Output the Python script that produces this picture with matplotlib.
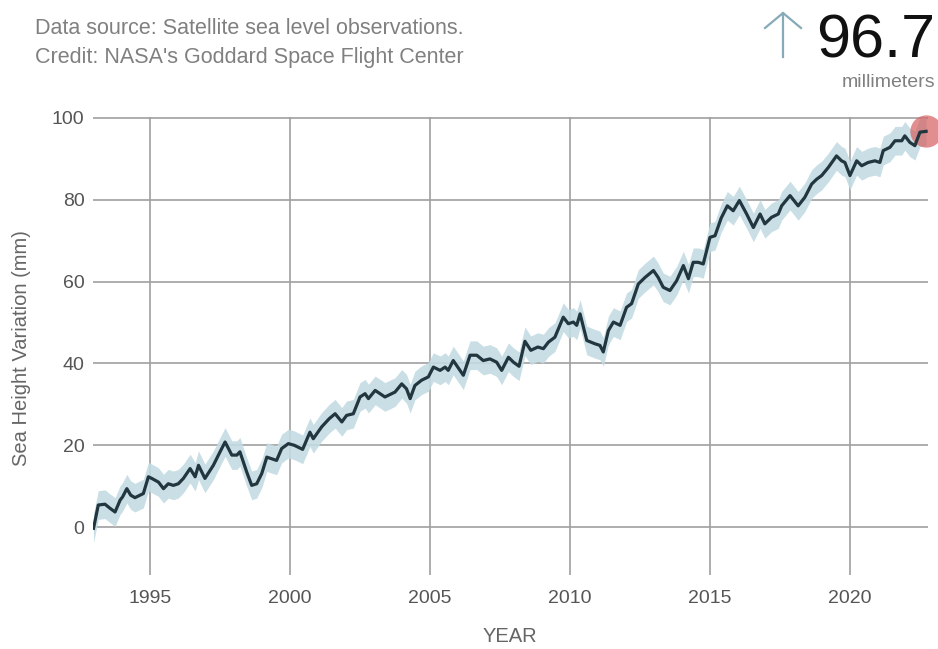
import matplotlib.pyplot as plt
from matplotlib.lines import Line2D

plt.rcParams['font.family'] = ['Liberation Sans', 'DejaVu Sans']

# satellite sea level change, mm relative to 1993
years = [1992.98, 1993.15, 1993.39, 1993.57, 1993.75, 1993.93, 1994.02, 1994.17, 1994.31, 1994.46,
         1994.76, 1994.94, 1995.06, 1995.30, 1995.48, 1995.65, 1995.83, 1996.01, 1996.19, 1996.43,
         1996.61, 1996.73, 1996.96, 1997.26, 1997.50, 1997.68, 1997.92, 1998.10, 1998.21, 1998.45,
         1998.63, 1998.81, 1998.99, 1999.17, 1999.52, 1999.70, 1999.94, 2000.15, 2000.45, 2000.71,
         2000.83, 2001.13, 2001.40, 2001.61, 2001.85, 2002.02, 2002.26, 2002.50, 2002.68, 2002.80,
         2003.04, 2003.39, 2003.75, 2003.99, 2004.16, 2004.29, 2004.46, 2004.70, 2004.94, 2005.12,
         2005.36, 2005.54, 2005.65, 2005.83, 2006.07, 2006.19, 2006.43, 2006.67, 2006.90, 2007.14,
         2007.38, 2007.56, 2007.80, 2007.98, 2008.18, 2008.39, 2008.60, 2008.85, 2009.05, 2009.23,
         2009.46, 2009.76, 2009.94, 2010.12, 2010.24, 2010.36, 2010.60, 2010.89, 2011.07, 2011.19,
         2011.37, 2011.55, 2011.79, 2012.02, 2012.20, 2012.44, 2012.68, 2012.98, 2013.15, 2013.33,
         2013.57, 2013.81, 2014.05, 2014.23, 2014.40, 2014.58, 2014.76, 2015.00, 2015.18, 2015.40,
         2015.62, 2015.83, 2016.05, 2016.31, 2016.55, 2016.79, 2016.96, 2017.20, 2017.44, 2017.56,
         2017.86, 2018.15, 2018.39, 2018.63, 2018.81, 2018.99, 2019.23, 2019.52, 2019.70, 2019.82,
         2020.00, 2020.24, 2020.42, 2020.65, 2020.89, 2021.07, 2021.19, 2021.43, 2021.61, 2021.85,
         2021.96, 2022.14, 2022.32, 2022.50, 2022.72]
sea_mm = [-0.3, 5.4, 5.6, 4.6, 3.7, 6.6, 7.4, 9.4, 7.8, 7.2,
          8.2, 12.3, 11.9, 11.0, 9.4, 10.6, 10.2, 10.6, 11.9, 14.3,
          12.3, 15.1, 11.9, 15.1, 18.4, 20.8, 17.6, 17.6, 18.4, 13.5,
          10.2, 10.6, 13.1, 17.1, 16.3, 19.2, 20.4, 20.0, 19.0, 23.2,
          21.6, 24.5, 26.5, 27.7, 25.7, 27.3, 27.7, 31.8, 32.6, 31.4,
          33.4, 31.8, 33.0, 35.0, 33.8, 31.4, 34.6, 35.9, 36.7, 39.1,
          38.3, 39.1, 38.3, 40.7, 38.3, 37.1, 42.0, 42.0, 40.7, 41.1,
          40.3, 38.3, 41.5, 40.3, 39.3, 45.4, 43.2, 44.0, 43.6, 45.2,
          46.4, 51.3, 49.7, 50.1, 49.3, 52.1, 45.6, 44.8, 44.4, 42.8,
          48.0, 50.1, 49.3, 53.7, 54.6, 59.4, 61.0, 62.7, 61.0, 58.6,
          57.8, 60.2, 63.9, 60.7, 64.7, 64.7, 64.3, 70.8, 71.2, 75.5,
          78.5, 77.3, 79.8, 76.5, 73.2, 76.5, 74.1, 75.7, 76.5, 78.5,
          81.0, 78.5, 80.6, 83.8, 85.0, 85.9, 87.9, 90.7, 89.5, 89.1,
          85.9, 89.5, 88.3, 89.1, 89.5, 89.1, 92.0, 92.8, 94.4, 94.4,
          95.6, 94.0, 93.2, 96.5, 96.7]
band_mm = 3.5
latest = sea_mm[-1]

xticks = [1995, 2000, 2005, 2010, 2015, 2020]
yticks = [0, 20, 40, 60, 80, 100]

fig = plt.figure(figsize=(9.38, 6.49), dpi=100)
ax = fig.add_axes([0.0991, 0.114, 0.890, 0.7057])

lo = [v - band_mm for v in sea_mm]
hi = [v + band_mm for v in sea_mm]
ax.fill_between(years, lo, hi, color='#c3dbe3', alpha=0.9, lw=0, zorder=2)
ax.plot(years, sea_mm, color='#22363f', lw=2.3, zorder=4, solid_joinstyle='round')
ax.scatter([years[-1]], [latest], s=540, color='#d65f60', alpha=0.7, lw=0,
           clip_on=False, zorder=3)

ax.set_xlim(1992.96, 2022.78)
ax.set_ylim(-11.7, 100.2)
ax.set_xticks(xticks)
ax.set_yticks(yticks)
ax.grid(True, color='#a0a0a0', lw=1.2, zorder=1)
ax.set_axisbelow(True)
for s in ax.spines.values():
    s.set_visible(False)
ax.tick_params(axis='x', length=0, pad=11, labelsize=14, labelcolor='#555555')
ax.tick_params(axis='y', length=0, pad=6, labelsize=14, labelcolor='#555555')

fig.text(22 / 938, 1 - 348 / 649, 'Sea Height Variation (mm)', rotation=90,
         ha='center', va='center', fontsize=14.5, color='#666666')
fig.text(510 / 938, 1 - 637 / 649, 'YEAR', ha='center', va='center',
         fontsize=14.5, color='#666666')

fig.text(35 / 938, 1 - 28 / 649, 'Data source: Satellite sea level observations.',
         ha='left', va='center', fontsize=15.5, color='#808080')
fig.text(35 / 938, 1 - 58 / 649, "Credit: NASA's Goddard Space Flight Center",
         ha='left', va='center', fontsize=15.5, color='#808080')

fig.text(935 / 938, 1 - 58 / 649, f'{latest}', ha='right', va='baseline',
         fontsize=44, color='#111111')
fig.text(935 / 938, 1 - 87 / 649, 'millimeters', ha='right', va='baseline',
         fontsize=14, color='#808080')

# thin up arrow next to the headline number
arrow_c = '#86aab8'
ax_x, top_y, bot_y = 783 / 938, 1 - 13 / 649, 1 - 57 / 649
fig.add_artist(Line2D([ax_x, ax_x], [bot_y, top_y], color=arrow_c, lw=1.6))
fig.add_artist(Line2D([765 / 938, ax_x, 801 / 938], [1 - 28 / 649, top_y, 1 - 28 / 649],
                      color=arrow_c, lw=1.6))

fig.savefig('out.png', dpi=100)
